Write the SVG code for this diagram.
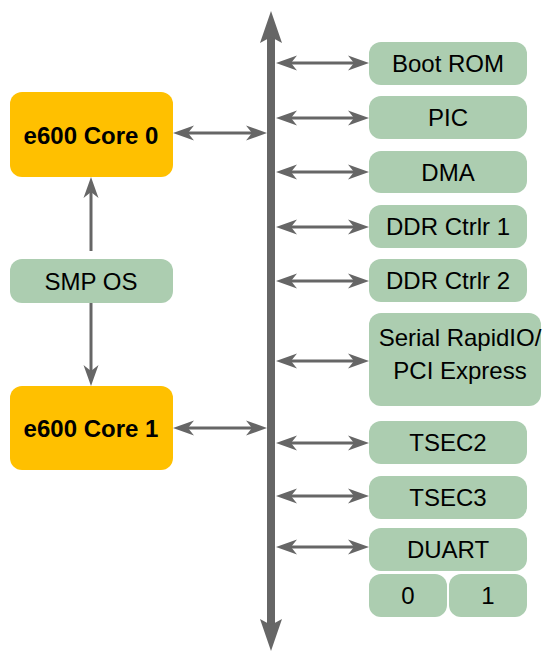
<svg xmlns="http://www.w3.org/2000/svg" width="543" height="654" viewBox="0 0 543 654">
<style>
.core{fill:#FFC000}
.blk{fill:#ACCDB0}
.t{font-family:"Liberation Sans",Arial,sans-serif;font-size:24px;fill:#000;text-anchor:middle}
.b{font-weight:bold}
.c{stroke:#666;stroke-width:3;fill:none;marker-start:url(#ah);marker-end:url(#ah)}
</style>
<defs>
<marker id="ah" viewBox="-13 -8 21 16" refX="0" refY="0" markerWidth="21" markerHeight="16" markerUnits="userSpaceOnUse" orient="auto-start-reverse">
<path d="M8,0 L-13,-7.5 L-7,0 L-13,7.5 Z" fill="#666"/>
</marker>
</defs>
<g id="bus">
<rect x="267" y="36" width="8" height="592" fill="#666"/>
<polygon points="271,11 260,43 271,37 282,43" fill="#666"/>
<polygon points="271,651 260,619 271,625 282,619" fill="#666"/>
</g>
<g id="core0"><rect class="core" x="10" y="92" width="163" height="85" rx="12"/><text class="t b" x="91" y="144">e600 Core 0</text></g>
<g id="smpos"><rect class="blk" x="10" y="259" width="163" height="44" rx="12"/><text class="t" x="91" y="290">SMP OS</text></g>
<g id="core1"><rect class="core" x="10" y="386" width="163" height="84" rx="12"/><text class="t b" x="91" y="437">e600 Core 1</text></g>
<g id="bootrom"><rect class="blk" x="369" y="42" width="158" height="43" rx="12"/><text class="t" x="448" y="72">Boot ROM</text></g>
<g id="pic"><rect class="blk" x="369" y="96" width="158" height="43" rx="12"/><text class="t" x="448" y="126">PIC</text></g>
<g id="dma"><rect class="blk" x="369" y="151" width="158" height="42" rx="12"/><text class="t" x="448" y="181">DMA</text></g>
<g id="ddr1"><rect class="blk" x="369" y="205" width="158" height="43" rx="12"/><text class="t" x="448" y="235">DDR Ctrlr 1</text></g>
<g id="ddr2"><rect class="blk" x="369" y="259" width="158" height="43" rx="12"/><text class="t" x="448" y="289">DDR Ctrlr 2</text></g>
<g id="srio"><rect class="blk" x="369" y="313" width="172" height="93" rx="12"/><text class="t" x="460" y="346">Serial RapidIO/</text><text class="t" x="460" y="379">PCI Express</text></g>
<g id="tsec2"><rect class="blk" x="369" y="421" width="158" height="43" rx="12"/><text class="t" x="448" y="451">TSEC2</text></g>
<g id="tsec3"><rect class="blk" x="369" y="476" width="158" height="43" rx="12"/><text class="t" x="448" y="506">TSEC3</text></g>
<g id="duart"><rect class="blk" x="369" y="528" width="158" height="43" rx="12"/><text class="t" x="448" y="558">DUART</text></g>
<g id="duart0"><rect class="blk" x="369" y="574" width="78" height="43" rx="12"/><text class="t" x="408" y="604">0</text></g>
<g id="duart1"><rect class="blk" x="449" y="574" width="78" height="43" rx="12"/><text class="t" x="488" y="604">1</text></g>
<g id="connectors">
<line class="c" x1="181" y1="133" x2="259" y2="133"/>
<line class="c" x1="181" y1="428" x2="259" y2="428"/>
<line class="c" x1="91" y1="251" x2="91" y2="185" style="marker-start:none"/>
<line class="c" x1="91" y1="303" x2="91" y2="378" style="marker-start:none"/>
<line class="c" x1="284" y1="63" x2="361" y2="63"/>
<line class="c" x1="284" y1="118" x2="361" y2="118"/>
<line class="c" x1="284" y1="172" x2="361" y2="172"/>
<line class="c" x1="284" y1="227" x2="361" y2="227"/>
<line class="c" x1="284" y1="281" x2="361" y2="281"/>
<line class="c" x1="284" y1="361" x2="361" y2="361"/>
<line class="c" x1="284" y1="443" x2="361" y2="443"/>
<line class="c" x1="284" y1="496" x2="361" y2="496"/>
<line class="c" x1="284" y1="547" x2="361" y2="547"/>
</g>
</svg>
